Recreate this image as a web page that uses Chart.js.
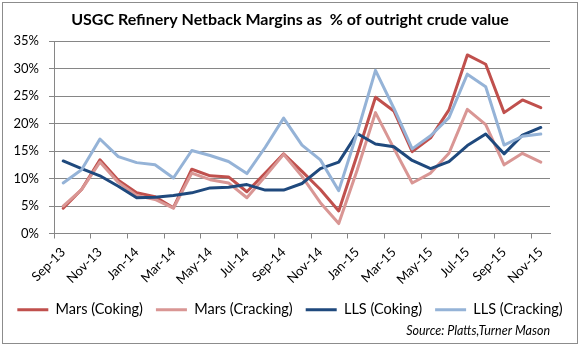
<!DOCTYPE html>
<html>
<head>
<meta charset="utf-8">
<script src="https://cdn.jsdelivr.net/npm/chart.js@4.4.1/dist/chart.umd.min.js"></script>
<style>
  body { margin: 0; background: #fff; }
  #wrap { position: relative; width: 580px; height: 350px; }
  #frame { position: absolute; left: 2px; top: 2px; width: 576px; height: 342px;
           border: 1px solid #8c8c8c; box-sizing: border-box; pointer-events: none; }
  canvas { position: absolute; left: 0; top: 0; }
</style>
</head>
<body>
<div id="wrap">
  <canvas id="myChart" width="580" height="350"></canvas>
  <div id="frame"></div>
</div>
<script>
const months = ['Sep-13', 'Oct-13', 'Nov-13', 'Dec-13', 'Jan-14', 'Feb-14', 'Mar-14', 'Apr-14', 'May-14',
    'Jun-14', 'Jul-14', 'Aug-14', 'Sep-14', 'Oct-14', 'Nov-14', 'Dec-14', 'Jan-15', 'Feb-15', 'Mar-15',
    'Apr-15', 'May-15', 'Jun-15', 'Jul-15', 'Aug-15', 'Sep-15', 'Oct-15', 'Nov-15'];

// values in % of outright crude value
const marsCoking = [4.6, 8.0, 13.4, 9.7, 7.4, 6.7, 4.7, 11.7, 10.5, 10.3, 7.6, 11.0, 14.5, 11.3, 8.0, 4.1,
    14.3, 24.8, 22.3, 14.9, 17.4, 22.5, 32.5, 30.8, 22.0, 24.3, 22.9];
const marsCracking = [5.0, 8.0, 13.0, 9.3, 6.9, 6.2, 4.6, 11.0, 9.8, 9.2, 6.5, 10.4, 14.4, 10.4, 5.6, 1.8,
    11.5, 22.0, 15.5, 9.2, 11.0, 14.6, 22.6, 19.8, 12.5, 14.6, 13.0];
const llsCoking = [13.2, 11.8, 10.5, 8.6, 6.5, 6.6, 6.9, 7.4, 8.3, 8.4, 8.9, 7.9, 7.9, 9.1, 11.8, 13.0,
    18.2, 16.3, 15.8, 13.3, 11.8, 13.1, 16.0, 18.1, 14.5, 17.9, 19.3];
const llsCracking = [9.2, 11.6, 17.2, 14.0, 12.9, 12.5, 10.1, 15.1, 14.2, 13.1, 10.9, 15.7, 21.0, 16.1, 13.4, 7.8,
    18.3, 29.7, 22.8, 15.4, 17.8, 21.1, 29.0, 26.7, 16.1, 17.7, 18.1];

const Y_MAX = 35;
const Y_STEP = 5;
const TITLE = 'USGC Refinery Netback Margins as  % of outright crude value';
const SOURCE = 'Source: Platts,Turner Mason';
const GRID = '#868686';

Chart.defaults.font.family = 'Lato';
Chart.defaults.color = '#000';

function series(label, values, color, order) {
    return {
        label: label,
        data: values,
        borderColor: color,
        backgroundColor: color,
        borderWidth: 3,
        pointRadius: 0,
        tension: 0,
        borderJoinStyle: 'round',
        borderCapStyle: 'round',
        order: order,
    };
}

const sourceNote = {
    id: 'sourceNote',
    afterDraw(chart) {
        const ctx = chart.ctx;
        ctx.save();
        ctx.font = 'italic 12.5px Lato';
        ctx.fillStyle = '#000';
        ctx.textAlign = 'right';
        ctx.textBaseline = 'middle';
        ctx.fillText(SOURCE, chart.chartArea.right, 331);
        ctx.restore();
    }
};

const config = {
    type: 'line',
    data: {
        labels: months,
        datasets: [
            series('Mars (Coking)', marsCoking, '#C0504D', 4),
            series('Mars (Cracking)', marsCracking, '#D99694', 3),
            series('LLS (Coking)', llsCoking, '#1F497D', 2),
            series('LLS (Cracking)', llsCracking, '#95B3D7', 1),
        ]
    },
    options: {
        responsive: false,
        animation: false,
        layout: {padding: {top: 0, left: 0, right: 0, bottom: 23}},
        plugins: {
            title: {
                display: true,
                text: TITLE,
                font: {size: 16, weight: 'bold'},
                color: '#000',
                padding: {top: 10, bottom: 12}
            },
            legend: {
                position: 'bottom',
                labels: {
                    usePointStyle: true,
                    pointStyle: 'line',
                    pointStyleWidth: 31,
                    font: {size: 14.5},
                    padding: 13,
                    sort: (a, b) => a.datasetIndex - b.datasetIndex
                }
            },
            tooltip: {enabled: false}
        },
        scales: {
            x: {
                offset: true,
                grid: {
                    offset: true,
                    drawOnChartArea: false,
                    drawTicks: true,
                    tickLength: 5,
                    color: ctx => ctx.index % 2 === 0 ? GRID : 'rgba(0,0,0,0)'
                },
                border: {color: GRID},
                ticks: {
                    autoSkip: false,
                    maxRotation: 45,
                    minRotation: 45,
                    padding: 6,
                    font: {size: 13},
                    callback: (value, index) => index % 2 === 0 ? months[index] : ''
                },
                afterFit: scale => { scale.height = 56; }
            },
            y: {
                min: 0,
                max: Y_MAX,
                grid: {color: GRID, tickLength: 5},
                border: {color: GRID},
                ticks: {
                    stepSize: Y_STEP,
                    padding: 10,
                    font: {size: 13},
                    callback: value => value + '%'
                },
                afterFit: scale => { scale.width = 54; }
            },
            yR: {
                type: 'linear',
                position: 'right',
                grid: {display: false},
                border: {display: false},
                ticks: {display: false},
                afterFit: scale => { scale.width = 30; }
            }
        }
    },
    plugins: [sourceNote]
};

const myChart = new Chart(document.getElementById('myChart').getContext('2d'), config);
</script>
</body>
</html>
